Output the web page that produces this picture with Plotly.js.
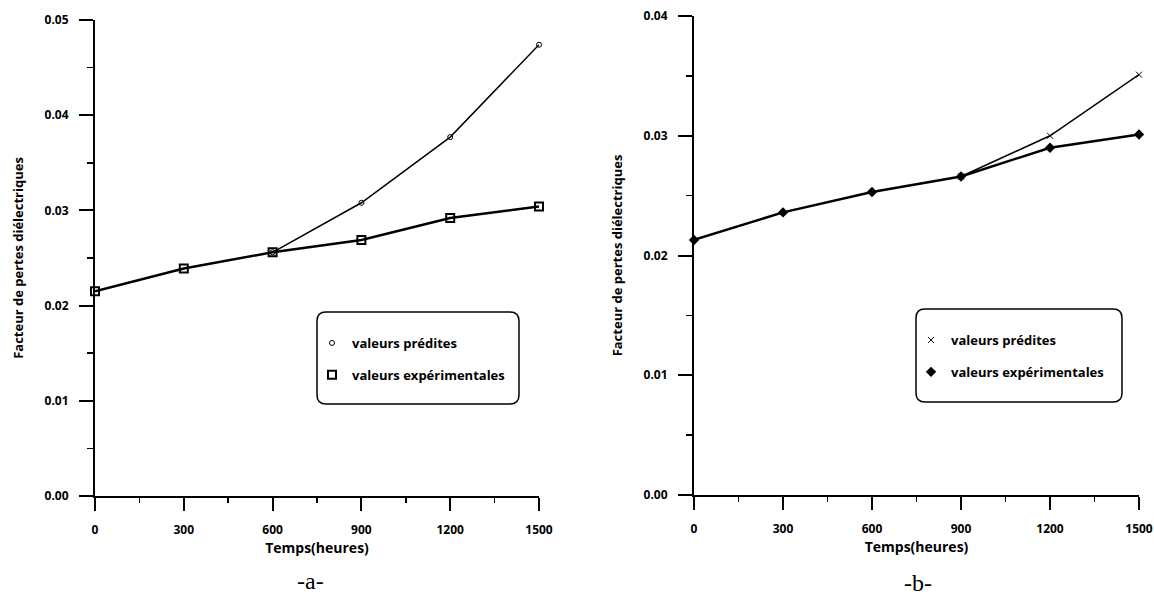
<!DOCTYPE html>
<html>
<head>
<meta charset="utf-8">
<script src="https://cdn.plot.ly/plotly-3.0.1.min.js"></script>
<style>
html,body{margin:0;padding:0;background:#ffffff;}
#chart{width:1154px;height:600px;}
</style>
</head>
<body>
<div id="chart"></div>
<script>
// ---- data ----
const hours = [0, 300, 600, 900, 1200, 1500];
const expA = [0.0215, 0.0239, 0.0256, 0.0269, 0.0292, 0.0304];
const predHoursA = [600, 900, 1200, 1500];
const predA = [0.0256, 0.0308, 0.0377, 0.0474];
const expB = [0.0213, 0.0236, 0.0253, 0.0266, 0.0290, 0.0301];
const predHoursB = [900, 1200, 1500];
const predB = [0.0266, 0.0300, 0.0351];
const xTitle = 'Temps(heures)';
const yTitle = 'Facteur de pertes diélectriques';
const namePred = 'valeurs prédites';
const nameExp = 'valeurs expérimentales';
const panelLabels = ['-a-', '-b-'];

// ---- layout helpers ----
const W = 1154, H = 600;
const px = v => v / W;
const py = v => 1 - v / H;
const FONT = 'Open Sans, Liberation Sans, sans-serif';
const tickFont = {family: FONT, size: 12, weight: 'bold', color: '#000'};

function xAxis(domain, anchor) {
  return {
    domain: domain, anchor: anchor, range: [0, 1500], tick0: 0, dtick: 300,
    showline: true, linewidth: 2, linecolor: '#000', mirror: false,
    ticks: 'outside', ticklen: 13, tickwidth: 2, tickcolor: '#000',
    minor: {ticks: 'outside', ticklen: 5, tickwidth: 1.5, tickcolor: '#000', tick0: 0, dtick: 150},
    showgrid: false, zeroline: false, tickfont: tickFont, ticklabelstandoff: 9,
    title: {text: xTitle, font: {family: FONT, size: 14, weight: 'bold', color: '#000'}, standoff: 0},
    fixedrange: true
  };
}
function yAxis(domain, anchor, top) {
  return {
    domain: domain, anchor: anchor, range: [0, top], tick0: 0, dtick: 0.01, tickformat: '.2f',
    showline: true, linewidth: 2, linecolor: '#000',
    ticks: 'outside', ticklen: 14, tickwidth: 2, tickcolor: '#000',
    minor: {ticks: 'outside', ticklen: 6, tickwidth: 1.5, tickcolor: '#000', tick0: 0, dtick: 0.005},
    showgrid: false, zeroline: false, tickfont: tickFont, ticklabelstandoff: 8,
    title: {text: yTitle, font: {family: FONT, size: 13, weight: 'bold', color: '#000'}, standoff: 18},
    fixedrange: true
  };
}

const traces = [
  // panel a
  {x: predHoursA, y: predA, xaxis: 'x', yaxis: 'y', mode: 'lines', showlegend: false,
   line: {color: '#000', width: 1.5}, cliponaxis: false, hoverinfo: 'skip'},
  {x: predHoursA, y: predA, xaxis: 'x', yaxis: 'y', mode: 'markers', name: namePred,
   legend: 'legend', legendgroup: 'pa', cliponaxis: false,
   marker: {symbol: 'circle-open', size: 5, color: '#000', line: {width: 1, color: '#000'}}},
  {x: hours, y: expA, xaxis: 'x', yaxis: 'y', mode: 'lines', showlegend: false,
   line: {color: '#000', width: 2.5}, cliponaxis: false, hoverinfo: 'skip'},
  {x: hours, y: expA, xaxis: 'x', yaxis: 'y', mode: 'markers', name: nameExp,
   legend: 'legend', legendgroup: 'ea', cliponaxis: false,
   marker: {symbol: 'square-open', size: 8, color: '#000', line: {width: 2, color: '#000'}}},
  // panel b
  {x: predHoursB, y: predB, xaxis: 'x2', yaxis: 'y2', mode: 'lines', showlegend: false,
   line: {color: '#000', width: 1.5}, cliponaxis: false, hoverinfo: 'skip'},
  {x: predHoursB, y: predB, xaxis: 'x2', yaxis: 'y2', mode: 'markers', name: namePred,
   legend: 'legend2', legendgroup: 'pb', cliponaxis: false,
   marker: {symbol: 'x-thin-open', size: 6, color: '#000', line: {width: 1, color: '#000'}}},
  {x: hours, y: expB, xaxis: 'x2', yaxis: 'y2', mode: 'lines', showlegend: false,
   line: {color: '#000', width: 2.5}, cliponaxis: false, hoverinfo: 'skip'},
  {x: hours, y: expB, xaxis: 'x2', yaxis: 'y2', mode: 'markers', name: nameExp,
   legend: 'legend2', legendgroup: 'eb', cliponaxis: false,
   marker: {symbol: 'diamond', size: 8, color: '#000', line: {width: 0}}}
];

function roundRect(x0, y0, x1, y1, r) {
  // pixel coords -> paper path
  const X = v => px(v).toFixed(5), Y = v => py(v).toFixed(5);
  return 'M' + X(x0 + r) + ',' + Y(y0) + ' L' + X(x1 - r) + ',' + Y(y0) +
    ' Q' + X(x1) + ',' + Y(y0) + ' ' + X(x1) + ',' + Y(y0 + r) +
    ' L' + X(x1) + ',' + Y(y1 - r) +
    ' Q' + X(x1) + ',' + Y(y1) + ' ' + X(x1 - r) + ',' + Y(y1) +
    ' L' + X(x0 + r) + ',' + Y(y1) +
    ' Q' + X(x0) + ',' + Y(y1) + ' ' + X(x0) + ',' + Y(y1 - r) +
    ' L' + X(x0) + ',' + Y(y0 + r) +
    ' Q' + X(x0) + ',' + Y(y0) + ' ' + X(x0 + r) + ',' + Y(y0) + ' Z';
}

const legendFont = {family: FONT, size: 13, weight: 'bold', color: '#000'};
const layout = {
  width: W, height: H, autosize: false,
  margin: {l: 0, r: 0, t: 0, b: 0, pad: 0},
  paper_bgcolor: '#fff', plot_bgcolor: '#fff',
  font: {family: FONT, color: '#000'},
  xaxis: xAxis([px(95), px(539)], 'y'),
  yaxis: yAxis([py(496), py(20)], 'x', 0.05),
  xaxis2: xAxis([px(694), px(1139)], 'y2'),
  yaxis2: yAxis([py(495), py(16)], 'x2', 0.04),
  legend: {x: px(312), y: py(328), xanchor: 'left', yanchor: 'top', bgcolor: 'rgba(0,0,0,0)',
           borderwidth: 0, font: legendFont, tracegroupgap: 12, itemclick: false, itemdoubleclick: false},
  legend2: {x: px(911), y: py(325), xanchor: 'left', yanchor: 'top', bgcolor: 'rgba(0,0,0,0)',
            borderwidth: 0, font: legendFont, tracegroupgap: 12, itemclick: false, itemdoubleclick: false},
  shapes: [
    {type: 'path', xref: 'paper', yref: 'paper', path: roundRect(317, 312, 519, 404, 9),
     line: {color: '#000', width: 1.5}},
    {type: 'path', xref: 'paper', yref: 'paper', path: roundRect(916, 309, 1122, 402, 9),
     line: {color: '#000', width: 1.5}}
  ],
  annotations: [
    {text: panelLabels[0], xref: 'paper', yref: 'paper', x: px(310), y: py(581), xanchor: 'center', yanchor: 'middle',
     showarrow: false, font: {family: 'Liberation Serif, serif', size: 24, color: '#000'}},
    {text: panelLabels[1], xref: 'paper', yref: 'paper', x: px(918), y: py(583), xanchor: 'center', yanchor: 'middle',
     showarrow: false, font: {family: 'Liberation Serif, serif', size: 24, color: '#000'}}
  ],
  hovermode: false
};

Plotly.newPlot('chart', traces, layout, {displayModeBar: false, staticPlot: true});
</script>
</body>
</html>
